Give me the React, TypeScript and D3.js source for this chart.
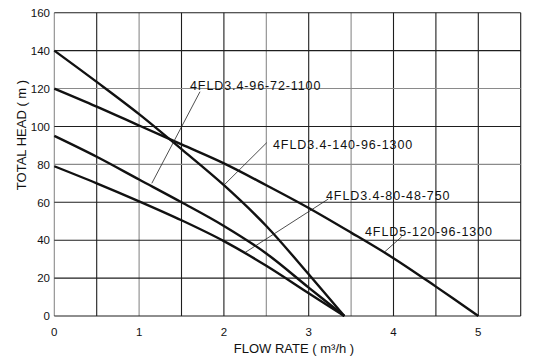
import React from "react";
import * as d3 from "d3";

const flow34 = [0, 0.5, 1, 1.5, 2, 2.5, 3, 3.42];
const head140 = [140, 123.5, 106.5, 88, 69, 47.5, 22, 0];
const head95 = [95, 84, 72, 60, 47.5, 33, 15, 0];
const head80 = [79, 70, 60.5, 50.5, 39.5, 26.5, 12, 0];
const flow5 = [0, 0.5, 1, 1.5, 2, 2.5, 3, 3.5, 4, 4.5, 5];
const head120 = [120, 110.5, 100.5, 90.5, 80.5, 69, 57, 44, 30.5, 15.5, 0];

const xTicks = [0, 1, 2, 3, 4, 5];
const yTicks = [0, 20, 40, 60, 80, 100, 120, 140, 160];
const xGrid = [0, 0.5, 1, 1.5, 2, 2.5, 3, 3.5, 4, 4.5, 5, 5.5];
const lightX = [1, 2.5, 3.5];
const lightY = [120, 80];

const labels = [
  { text: "4FLD3.4-96-72-1100", tx: 190, ty: 89.5, from: [200, 91.7], to: [1.15, 70] },
  { text: "4FLD3.4-140-96-1300", tx: 273, ty: 148.5, from: [266.7, 142.7], to: [2.0, 69] },
  { text: "4FLD3.4-80-48-750", tx: 326, ty: 200, from: [328.3, 199], to: [2.25, 33.5] },
  { text: "4FLD5-120-96-1300", tx: 365, ty: 236, from: [401.7, 236.7], to: [3.9, 34] },
];

export default function App() {
  const x = d3.scaleLinear().domain([0, 5.5]).range([54.3, 520.7]);
  const y = d3.scaleLinear().domain([0, 160]).range([316, 12.7]);
  const line = d3
    .line<[number, number]>()
    .x((d) => x(d[0]))
    .y((d) => y(d[1]))
    .curve(d3.curveCatmullRom.alpha(0.5));
  const series = [
    flow34.map((f, i) => [f, head140[i]] as [number, number]),
    flow34.map((f, i) => [f, head95[i]] as [number, number]),
    flow34.map((f, i) => [f, head80[i]] as [number, number]),
    flow5.map((f, i) => [f, head120[i]] as [number, number]),
  ];
  const font = "'Liberation Sans', Arial, sans-serif";
  return (
    <svg
      width={552}
      height={363}
      style={{ position: "absolute", left: 0, top: 0, background: "#fff" }}
      fontFamily={font}
    >
      <rect x={0} y={0} width={552} height={363} fill="#fff" />
      {xGrid.map((v) => (
        <line
          key={"gx" + v}
          x1={x(v)}
          x2={x(v)}
          y1={y(0)}
          y2={y(160)}
          stroke={lightX.includes(v) || v === 0 ? "#8a8a8a" : "#1e1e1e"}
          strokeWidth={1.1}
        />
      ))}
      {yTicks.map((v) => (
        <line
          key={"gy" + v}
          x1={x(0)}
          x2={x(5.5)}
          y1={y(v)}
          y2={y(v)}
          stroke={lightY.includes(v) ? "#8a8a8a" : "#1e1e1e"}
          strokeWidth={1.1}
        />
      ))}
      {series.map((s, i) => (
        <path key={"s" + i} d={line(s) || ""} fill="none" stroke="#111" strokeWidth={2.4} />
      ))}
      {labels.map((l, i) => (
        <g key={"l" + i}>
          <line
            x1={l.from[0]}
            y1={l.from[1]}
            x2={x(l.to[0])}
            y2={y(l.to[1])}
            stroke="#222"
            strokeWidth={0.8}
          />
          <text x={l.tx} y={l.ty} fontSize={12.5} letterSpacing={0.9} fill="#111">
            {l.text}
          </text>
        </g>
      ))}
      {yTicks.map((v) => (
        <text key={"yt" + v} x={50} y={y(v) + 4.3} fontSize={11.5} textAnchor="end" fill="#111">
          {v}
        </text>
      ))}
      {xTicks.map((v) => (
        <text key={"xt" + v} x={x(v)} y={336} fontSize={11.5} textAnchor="middle" fill="#111">
          {v}
        </text>
      ))}
      <text x={294} y={353} fontSize={13} textAnchor="middle" fill="#111">
        FLOW RATE ( m³/h )
      </text>
      <text
        transform="translate(25.5,135) rotate(-90)"
        fontSize={13}
        textAnchor="middle"
        fill="#111"
      >
        TOTAL HEAD ( m )
      </text>
    </svg>
  );
}
